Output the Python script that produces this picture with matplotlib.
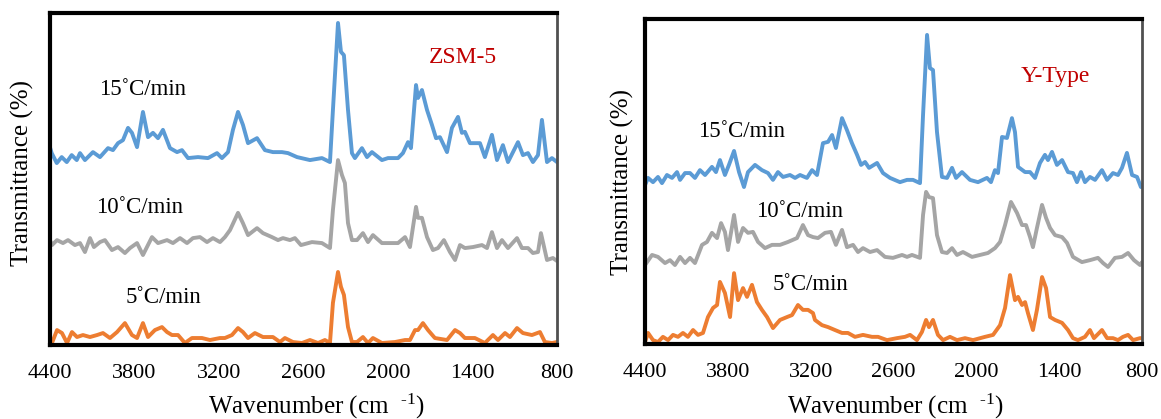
import matplotlib
matplotlib.use("Agg")
from matplotlib import pyplot as plt

plt.rcParams['font.family'] = ['Liberation Serif', 'DejaVu Serif']
plt.rcParams['mathtext.fontset'] = 'custom'
plt.rcParams['mathtext.rm'] = 'Liberation Serif'
plt.rcParams['mathtext.it'] = 'Liberation Serif'

# x tick values (wavenumber, cm-1)
xticks = [4400, 3800, 3200, 2600, 2000, 1400, 800]

# ---- ZSM-5 panel ----
zsm_wn_15 = [4400, 4388, 4352, 4317, 4281, 4246, 4210, 4187, 4152, 4095, 4045, 3988, 3953, 3917, 3882,
             3846, 3818, 3782, 3740, 3704, 3669, 3633, 3598, 3548, 3498, 3463, 3420, 3349, 3278, 3214,
             3179, 3136, 3101, 3065, 3030, 2994, 2930, 2874, 2817, 2753, 2710, 2646, 2554, 2469, 2412,
             2391, 2355, 2334, 2313, 2284, 2256, 2235, 2185, 2149, 2114, 2043, 2000, 1929, 1894, 1858,
             1837, 1801, 1787, 1759, 1723, 1688, 1659, 1631, 1581, 1546, 1503, 1475, 1454, 1418, 1347,
             1312, 1262, 1226, 1184, 1148, 1077, 1042, 1006, 971, 935, 907, 871, 836, 800]
zsm_t_15 = [59.5, 57.8, 54.8, 56.6, 55.1, 57.2, 55.7, 57.8, 55.7, 58.1, 56.6, 59.3, 58.7, 60.8, 61.7,
            65.4, 63.9, 59.6, 70.2, 62.6, 63.9, 62.3, 64.8, 59.3, 58.1, 58.7, 56.3, 56.6, 56.3, 57.8,
            56.3, 58.1, 64.8, 70.2, 66.3, 60.8, 62.3, 58.7, 58.1, 58.1, 57.8, 56.6, 55.7, 56.3, 55.1,
            70.8, 97.0, 88.3, 87.3, 70.8, 57.8, 56.3, 59.3, 56.6, 58.1, 55.7, 56.3, 56.3, 57.8, 61.1,
            59.3, 78.3, 74.4, 76.8, 70.8, 66.3, 62.3, 62.6, 58.1, 65.4, 68.7, 63.9, 64.2, 60.8, 60.8,
            56.6, 63.3, 55.7, 60.2, 55.1, 61.1, 57.2, 57.8, 55.1, 57.2, 67.8, 55.1, 56.3, 55.1]

zsm_wn_10 = [4400, 4386, 4350, 4308, 4272, 4223, 4187, 4152, 4116, 4088, 4045, 4010, 3960, 3917, 3868,
             3832, 3782, 3740, 3676, 3633, 3569, 3527, 3477, 3427, 3385, 3335, 3285, 3243, 3193, 3158,
             3122, 3065, 3030, 2994, 2930, 2888, 2824, 2781, 2746, 2696, 2661, 2618, 2540, 2469, 2412,
             2391, 2355, 2327, 2306, 2284, 2256, 2220, 2178, 2142, 2107, 2043, 1929, 1879, 1844, 1801,
             1787, 1759, 1723, 1681, 1645, 1603, 1560, 1524, 1489, 1454, 1397, 1333, 1297, 1262, 1226,
             1191, 1148, 1084, 1049, 1006, 971, 935, 914, 871, 829, 800]
zsm_t_10 = [31.5, 30.1, 31.6, 30.7, 31.6, 30.1, 30.7, 28.0, 32.2, 29.5, 31.0, 31.6, 28.6, 29.5, 27.7,
            29.2, 30.7, 27.1, 32.5, 30.7, 31.6, 30.7, 32.2, 30.7, 32.2, 32.5, 31.0, 32.2, 31.0, 32.5,
            34.6, 39.8, 36.7, 33.1, 35.2, 33.7, 32.5, 31.6, 32.2, 31.6, 32.2, 30.1, 31.0, 30.7, 29.2,
            40.7, 55.7, 51.2, 48.8, 36.7, 31.6, 31.6, 33.7, 31.0, 33.1, 30.7, 30.7, 32.5, 29.5, 41.6,
            38.3, 38.3, 32.5, 28.6, 29.2, 31.6, 28.0, 25.6, 30.1, 29.2, 29.5, 30.1, 29.2, 34.0, 29.2,
            31.6, 29.2, 32.2, 29.2, 29.2, 27.7, 28.0, 33.7, 25.6, 26.2, 25.3]

zsm_wn_5 = [4400, 4386, 4350, 4315, 4279, 4244, 4208, 4166, 4116, 4066, 4024, 3974, 3924, 3868, 3818,
            3782, 3740, 3704, 3655, 3605, 3569, 3534, 3491, 3442, 3392, 3321, 3264, 3193, 3158, 3108,
            3065, 3030, 2994, 2945, 2888, 2817, 2767, 2732, 2675, 2611, 2554, 2497, 2448, 2412, 2391,
            2355, 2334, 2313, 2284, 2256, 2220, 2178, 2142, 2107, 2043, 1950, 1879, 1844, 1808, 1787,
            1752, 1716, 1667, 1581, 1524, 1489, 1454, 1383, 1312, 1255, 1219, 1169, 1134, 1084, 1042,
            978, 921, 886, 836, 800]
zsm_t_5 = [0.3, 0.6, 4.5, 3.6, 0.6, 3.9, 2.4, 3.0, 2.4, 3.0, 3.6, 2.1, 3.9, 6.6, 3.0,
           2.1, 6.6, 2.4, 4.5, 5.4, 3.9, 3.0, 3.0, 0.6, 2.1, 2.1, 1.5, 2.1, 2.1, 3.0,
           5.1, 3.9, 2.1, 3.6, 2.4, 2.4, 0.9, 2.1, 0.9, 0.6, 1.5, 0.6, 1.5, 0.6, 12.7,
           22.0, 17.5, 15.1, 5.4, 0.9, 0.9, 2.4, 0.6, 2.1, 0.6, 0.9, 1.5, 1.5, 4.5, 4.5,
           6.6, 4.5, 2.1, 1.5, 4.5, 3.6, 2.1, 2.1, 0.6, 3.0, 1.5, 3.6, 2.4, 5.1, 3.6,
           3.0, 3.9, 0.9, 0.6, 0.9]

# ---- Y-Type panel ----
y_wn_15 = [4400, 4378, 4342, 4306, 4277, 4241, 4204, 4168, 4146, 4110, 4074, 4038, 4002, 3965, 3915,
           3886, 3857, 3821, 3792, 3755, 3719, 3683, 3654, 3603, 3553, 3509, 3473, 3437, 3400, 3350,
           3313, 3277, 3227, 3190, 3154, 3111, 3074, 3045, 3017, 2973, 2937, 2901, 2864, 2835, 2806,
           2777, 2719, 2676, 2625, 2553, 2502, 2459, 2408, 2386, 2357, 2336, 2314, 2285, 2249, 2212,
           2176, 2147, 2104, 2046, 1988, 1923, 1894, 1865, 1843, 1814, 1778, 1742, 1720, 1698, 1647,
           1611, 1575, 1539, 1503, 1481, 1452, 1416, 1379, 1336, 1300, 1271, 1242, 1213, 1177, 1140,
           1090, 1053, 1010, 974, 945, 909, 872, 836, 808, 800]
y_t_15 = [48.9, 51.1, 49.8, 51.4, 49.5, 52.0, 51.1, 52.9, 50.5, 52.6, 52.6, 51.1, 53.5, 52.0, 54.5,
          52.9, 56.6, 52.0, 55.1, 59.4, 52.9, 48.3, 52.9, 55.1, 53.5, 52.6, 50.5, 52.9, 51.4, 52.0,
          51.1, 52.0, 51.1, 53.5, 52.0, 61.8, 62.2, 64.3, 60.3, 69.5, 65.8, 61.8, 58.2, 55.1, 56.0,
          54.2, 55.7, 52.6, 51.1, 49.8, 50.5, 50.5, 49.5, 70.5, 95.1, 84.9, 84.3, 65.2, 51.4, 51.1,
          54.2, 51.1, 52.9, 50.5, 49.8, 51.1, 49.8, 53.5, 52.6, 63.7, 63.4, 69.5, 65.2, 54.5, 52.9,
          52.9, 51.1, 55.7, 58.2, 56.6, 59.1, 55.1, 56.6, 52.9, 52.6, 49.8, 52.9, 49.8, 51.4, 50.5,
          53.5, 50.5, 52.6, 52.0, 54.2, 58.8, 52.0, 51.4, 48.3, 48.9]

y_wn_10 = [4400, 4349, 4306, 4255, 4219, 4183, 4146, 4110, 4074, 4038, 3987, 3951, 3915, 3878, 3849,
           3821, 3799, 3755, 3726, 3690, 3654, 3618, 3581, 3531, 3480, 3422, 3364, 3299, 3256, 3219,
           3183, 3147, 3096, 3053, 3017, 2973, 2937, 2893, 2857, 2821, 2770, 2719, 2662, 2604, 2538,
           2502, 2466, 2408, 2386, 2364, 2343, 2314, 2285, 2249, 2212, 2176, 2140, 2097, 2031, 1973,
           1916, 1865, 1828, 1792, 1749, 1705, 1669, 1640, 1611, 1590, 1561, 1524, 1495, 1466, 1430,
           1379, 1343, 1300, 1235, 1177, 1119, 1082, 1046, 996, 945, 901, 858, 814, 800]
y_t_10 = [24.3, 27.4, 26.8, 24.9, 25.8, 24.3, 26.8, 24.9, 26.5, 24.9, 30.5, 31.4, 34.2, 32.6, 37.2,
          34.5, 28.9, 39.7, 31.4, 35.7, 34.2, 34.5, 31.4, 29.5, 30.5, 30.5, 31.4, 32.6, 36.6, 33.5,
          32.9, 32.6, 34.2, 34.5, 30.5, 35.1, 29.8, 30.5, 28.3, 29.5, 28.3, 28.9, 26.8, 26.5, 27.4,
          26.8, 27.4, 26.5, 39.7, 46.8, 45.2, 44.9, 33.5, 28.3, 28.0, 29.5, 27.4, 28.3, 26.8, 27.4,
          28.0, 29.5, 31.4, 36.6, 43.7, 40.3, 36.6, 36.6, 32.9, 29.8, 35.7, 42.8, 38.8, 35.7, 33.5,
          32.9, 31.1, 26.8, 25.2, 25.8, 26.5, 24.9, 23.7, 26.5, 26.8, 28.0, 25.8, 24.3, 25.2]

y_wn_5 = [4400, 4378, 4342, 4306, 4270, 4233, 4197, 4161, 4125, 4089, 4052, 4016, 3980, 3944, 3907,
          3878, 3857, 3821, 3784, 3755, 3726, 3690, 3661, 3625, 3589, 3553, 3516, 3473, 3422, 3371,
          3335, 3292, 3256, 3219, 3183, 3169, 3118, 3074, 3024, 2973, 2930, 2879, 2821, 2756, 2712,
          2647, 2575, 2517, 2480, 2430, 2394, 2364, 2343, 2314, 2278, 2241, 2191, 2140, 2082, 2024,
          1937, 1879, 1828, 1792, 1756, 1720, 1698, 1669, 1647, 1626, 1590, 1561, 1524, 1495, 1466,
          1430, 1379, 1336, 1300, 1264, 1213, 1177, 1148, 1090, 1053, 1010, 974, 938, 901, 865,
          814, 800]
y_t_5 = [0.6, 3.4, 1.2, 0.6, 2.2, 1.2, 2.8, 2.2, 3.4, 2.2, 4.3, 2.8, 3.4, 8.3, 11.1,
         12.0, 19.1, 15.7, 8.3, 21.8, 13.5, 17.2, 14.5, 18.2, 12.9, 10.5, 8.3, 4.9, 7.4, 8.3,
         8.9, 12.0, 10.5, 10.5, 9.5, 7.4, 5.8, 5.2, 4.3, 3.4, 3.4, 2.2, 2.8, 2.2, 2.2,
         1.2, 1.8, 2.2, 2.8, 1.2, 3.7, 7.4, 5.2, 7.4, 2.8, 1.2, 2.2, 1.2, 1.8, 1.2,
         2.2, 2.8, 5.8, 11.1, 21.2, 13.5, 14.5, 12.0, 12.9, 9.5, 4.3, 10.5, 20.6, 17.2, 8.3,
         7.4, 6.5, 4.3, 1.8, 1.2, 2.2, 4.3, 1.8, 4.3, 1.8, 1.8, 1.2, 2.2, 2.8, 1.2,
         1.8, 1.8]

blue = '#5B9BD5'
gray = '#A5A5A5'
orange = '#ED7D31'
red = '#C00000'

W, H = 1161, 419
fig = plt.figure(figsize=(W / 100, H / 100), dpi=100)


def make_panel(rect, series, labels, title, title_xy, ylabel_xy, xlabel_xy):
    ax = fig.add_axes(rect)
    for wn, t, c in series:
        ax.plot(wn, t, color=c, lw=2.8, solid_joinstyle='round', solid_capstyle='round')
    ax.set_xlim(4400, 800)
    ax.set_ylim(0, 100)
    ax.set_xticks(xticks)
    ax.set_xticklabels([str(v) for v in xticks], fontsize=16)
    ax.set_yticks([])
    ax.tick_params(axis='x', length=0, pad=14)
    for side in ['top', 'left', 'bottom']:
        ax.spines[side].set_linewidth(3)
        ax.spines[side].set_color('black')
    ax.spines['right'].set_linewidth(2)
    ax.spines['right'].set_color('#505050')
    # series labels, positioned in pixel coords
    for txt, (px, py) in labels:
        fig.text(px / W, 1 - py / H, txt, fontsize=16.5, ha='center', va='baseline')
    fig.text(title_xy[0] / W, 1 - title_xy[1] / H, title, fontsize=17, color=red,
             ha='center', va='baseline')
    fig.text(ylabel_xy[0] / W, 1 - ylabel_xy[1] / H, 'Transmittance (%)', fontsize=18,
             rotation=90, ha='center', va='center')
    fig.text(xlabel_xy[0] / W, 1 - xlabel_xy[1] / H, 'Wavenumber (cm  $^{\u2010 1}$)', fontsize=18,
             ha='center', va='center')
    return ax


make_panel([50 / W, 1 - 345 / H, 507 / W, 332 / H],
           [(zsm_wn_15, zsm_t_15, blue), (zsm_wn_10, zsm_t_10, gray), (zsm_wn_5, zsm_t_5, orange)],
           [('15˚C/min', (143, 95)), ('10˚C/min', (140, 213)), ('5˚C/min', (163, 303))],
           'ZSM-5', (463, 63), (22, 173), (316, 406))

make_panel([645 / W, 1 - 344 / H, 497 / W, 325 / H],
           [(y_wn_15, y_t_15, blue), (y_wn_10, y_t_10, gray), (y_wn_5, y_t_5, orange)],
           [('15˚C/min', (742, 137)), ('10˚C/min', (800, 217)), ('5˚C/min', (810, 290))],
           'Y-Type', (1055, 82), (622, 182), (895, 406))

fig.savefig('out.png', dpi=100)
